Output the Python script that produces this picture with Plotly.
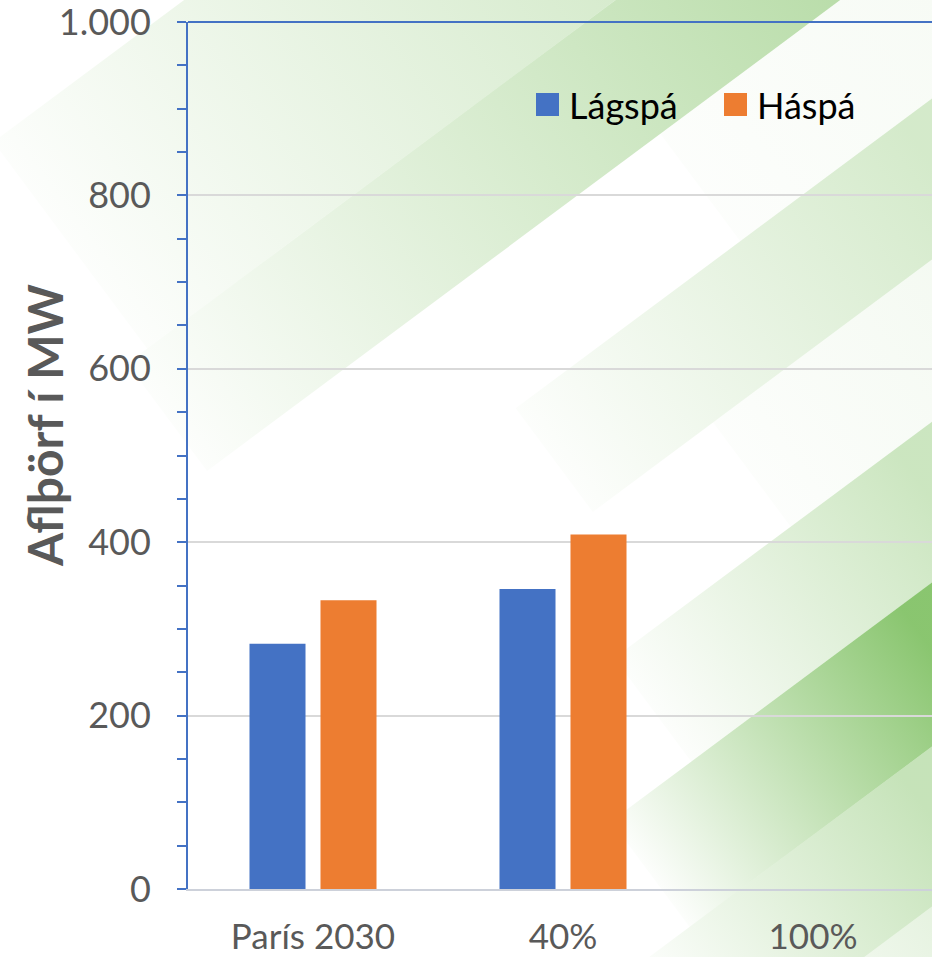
import base64
import math
import plotly.graph_objects as go

# ---------------- data ----------------
categories = ["París 2030", "40%", "100%"]
series_names = ["Lágspá", "Háspá"]
lagspa = [283, 346, None]
haspa = [333, 409, None]
series_colors = ["#4472C4", "#ED7D31"]
y_tickvals = [0, 200, 400, 600, 800, 1000]
y_ticktext = ["0", "200", "400", "600", "800", "1.000"]
y_title = "Aflþörf í MW"

# ---------------- geometry ----------------
W, H = 932, 957
ML, MR, MT, MB = 188, 0, 22, 68
PW = W - ML - MR
PH = H - MT - MB


def px(x):
    return (x - ML) / PW


def py(y):
    return (H - MB - y) / PH


# ---------------- decorative background (diagonal gradient stripes) ----------------
slope = 0.744
theta = math.atan(slope)
cos_t = math.cos(theta)
deg = math.degrees(theta)
base = "rgb(112,185,80)"
bands = [  # c_top, c_bot, X0, X1, alpha
    (137, 458, -90, 800, 0.42),
    (458, 625, -115, 700, 0.50),
    (625, 792, 450, 950, 0.08),
    (792, 953, 170, 650, 0.30),
    (953, 1115, 320, 720, 0.10),
    (1115, 1276, 100, 450, 0.36),
    (1276, 1440, 0, 360, 0.82),
    (1440, 1600, -60, 260, 0.40),
    (1600, 1800, 0, 300, 0.25),
]
defs, rects = [], []
for i, (ct, cb, x0, x1, a) in enumerate(bands):
    defs.append(
        f'<linearGradient id="g{i}" gradientUnits="userSpaceOnUse" x1="{x0}" y1="0" x2="{x1}" y2="0">'
        f'<stop offset="0" stop-color="{base}" stop-opacity="0.02"/>'
        f'<stop offset="1" stop-color="{base}" stop-opacity="{a}"/></linearGradient>'
    )
    rects.append(
        f'<rect x="{x0}" y="{ct * cos_t:.1f}" width="2500" height="{(cb - ct) * cos_t:.1f}" fill="url(#g{i})"/>'
    )
svg = (
    f'<svg xmlns="http://www.w3.org/2000/svg" width="{W}" height="{H}" viewBox="0 0 {W} {H}" preserveAspectRatio="none">'
    f'<defs>{"".join(defs)}</defs><g transform="rotate({-deg:.3f})">{"".join(rects)}</g></svg>'
)
svg_uri = "data:image/svg+xml;base64," + base64.b64encode(svg.encode()).decode()

# ---------------- figure ----------------
fig = go.Figure()
for name, vals, col in zip(series_names, [lagspa, haspa], series_colors):
    fig.add_trace(go.Bar(x=categories, y=vals, name=name, marker=dict(color=col, line=dict(width=0)),
                         showlegend=False))

font_family = "Lato, 'Open Sans', sans-serif"
grey = "#595959"
blue = "#4472C4"

fig.update_layout(
    width=W, height=H,
    margin=dict(l=ML, r=MR, t=MT, b=MB, pad=0, autoexpand=False),
    paper_bgcolor="white",
    plot_bgcolor="rgba(0,0,0,0)",
    barmode="group",
    bargap=0.432,
    bargroupgap=0.211,
    font=dict(family=font_family, color=grey, size=35),
    images=[dict(source=svg_uri, xref="paper", yref="paper", x=px(0), y=py(0),
                 sizex=W / PW, sizey=H / PH, xanchor="left", yanchor="top",
                 sizing="stretch", layer="below")],
    xaxis=dict(
        type="category", range=[-0.5, -0.5 + PW / 250], showgrid=False,
        showline=True, linecolor="#CDD1DA", linewidth=2, ticks="",
        tickfont=dict(size=35, color=grey, family=font_family), ticklabelstandoff=16,
        ticklabeloverflow="allow", automargin=False, fixedrange=True,
    ),
    yaxis=dict(
        range=[0, 1000], tickvals=y_tickvals, ticktext=y_ticktext,
        showgrid=True, gridcolor="#D9D9D9", gridwidth=1.5, zeroline=False,
        showline=True, linecolor=blue, linewidth=2,
        ticks="outside", ticklen=9, tickwidth=1.5, tickcolor=blue,
        minor=dict(dtick=50, ticks="outside", ticklen=9, tickwidth=1.5, tickcolor=blue, showgrid=False),
        tickfont=dict(size=36, color=grey, family=font_family), ticklabelstandoff=19,
        ticklabeloverflow="allow", automargin=False, fixedrange=True,
    ),
    shapes=[dict(type="line", xref="paper", yref="paper", x0=0, x1=1, y0=1, y1=1,
                 line=dict(color=blue, width=2))],
    annotations=[dict(text=f"<b>{y_title}</b>", xref="paper", yref="paper", x=px(44), y=py(425),
                      textangle=-90, showarrow=False, font=dict(size=48, color=grey, family=font_family),
                      xanchor="center", yanchor="middle")],
)

# custom legend (larger swatches than plotly's fixed-size bar legend)
legend_x = [536, 724]
legend_y = 104.5
sw = 23
for name, col, lx in zip(series_names, series_colors, legend_x):
    fig.add_shape(type="rect", xref="paper", yref="paper", x0=px(lx), x1=px(lx + sw),
                  y0=py(legend_y + sw / 2), y1=py(legend_y - sw / 2), fillcolor=col, line=dict(width=0))
    fig.add_annotation(text=name, xref="paper", yref="paper", x=px(lx + sw + 8), y=py(legend_y),
                       xanchor="left", yanchor="middle", showarrow=False,
                       font=dict(size=36, color="#000000", family=font_family))

fig.write_html("out.html", config={"displayModeBar": False},
               post_script="document.body.style.margin='0';document.body.style.overflow='hidden';")
